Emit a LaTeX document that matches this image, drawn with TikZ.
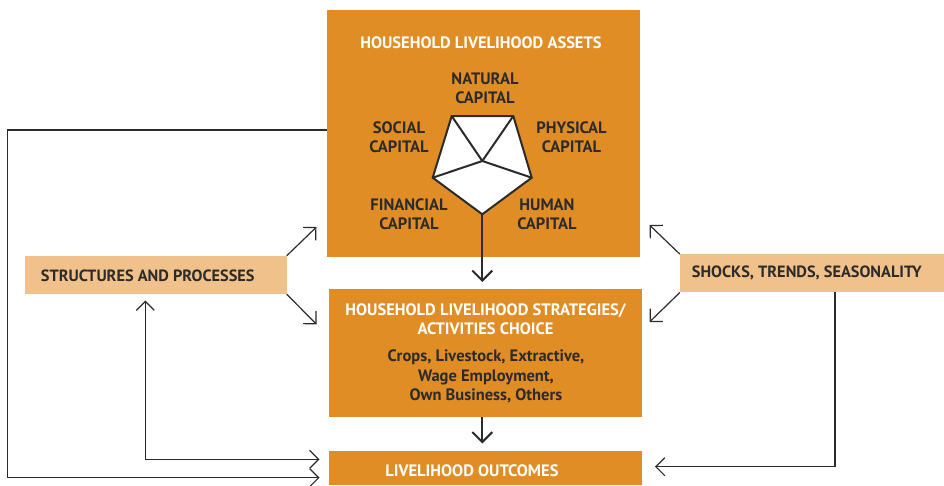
\documentclass[tikz,border=0pt]{standalone}
\usepackage{fontspec}
\setmainfont{PT Sans}
\usetikzlibrary{arrows.meta}
\definecolor{orangebox}{HTML}{E18D26}
\definecolor{lightbox}{HTML}{F0C18A}
\definecolor{ink}{HTML}{2B2B2B}
\tikzset{
  mainbox/.style={fill=orangebox, draw=none, inner sep=0pt},
  sidebox/.style={fill=lightbox, draw=none, inner sep=0pt},
  titletext/.style={text=white, font=\bfseries\fontsize{16.5}{19}\selectfont, align=center, inner sep=0pt},
  captext/.style={text=ink, font=\bfseries\fontsize{16.5}{18.7}\selectfont, align=center, inner sep=0pt},
  bodytext/.style={text=ink, font=\bfseries\fontsize{16.5}{19.2}\selectfont, align=center, inner sep=0pt},
  sidetext/.style={text=ink, font=\bfseries\fontsize{16.3}{18}\selectfont, anchor=west, inner sep=0pt},
  conn/.style={draw=ink, line width=1.2pt, -{Straight Barb[length=9pt,width=18pt,line width=1.2pt]}},
  thickarrow/.style={draw=ink, line width=2pt, -{Straight Barb[length=10pt,width=20pt,line width=2pt]}},
  pent/.style={draw=ink, line width=2pt, line join=miter},
}
\begin{document}
\begin{tikzpicture}[x=1pt, y=-1pt]
\useasboundingbox (0,0) rectangle (944,485);
% main boxes
\node[mainbox, minimum width=313pt, minimum height=247pt] (top) at (483.5,133.5) {};
\node[mainbox, minimum width=313pt, minimum height=128pt] (mid) at (485.5,353) {};
\node[mainbox, minimum width=313pt, minimum height=34pt] (bot) at (485.5,468) {};
% side boxes
\node[sidebox, minimum width=262pt, minimum height=38pt] (left) at (155.5,275) {};
\node[sidebox, minimum width=264pt, minimum height=38pt] (right) at (812,273.3) {};
% texts
\node[titletext] (ttop) at (481,43) {HOUSEHOLD LIVELIHOOD ASSETS};
\node[captext] (nat) at (485,88.5) {NATURAL\\CAPITAL};
\node[captext] (soc) at (399,137.5) {SOCIAL\\CAPITAL};
\node[captext] (phy) at (571.5,137.5) {PHYSICAL\\CAPITAL};
\node[captext] (fin) at (409,214.5) {FINANCIAL\\CAPITAL};
\node[captext] (hum) at (547,214.5) {HUMAN\\CAPITAL};
\node[titletext] (tmid) at (485.5,319.5) {HOUSEHOLD LIVELIHOOD STRATEGIES/\\ACTIVITIES CHOICE};
\node[bodytext] (bmid) at (486,376.5) {Crops, Livestock, Extractive,\\Wage Employment,\\Own Business, Others};
\node[titletext] (tbot) at (472,470.7) {LIVELIHOOD OUTCOMES};
\node[sidetext] (tleft) at (40.7,275.7) {STRUCTURES AND PROCESSES};
\node[sidetext] (tright) at (691.7,273.3) {SHOCKS, TRENDS, SEASONALITY};
% pentagon
\coordinate (p1) at (451.7,116);
\coordinate (p2) at (513.3,116);
\coordinate (p3) at (531.7,177.7);
\coordinate (p4) at (482.3,214.3);
\coordinate (p5) at (432.7,177.7);
\coordinate (pc) at (482.3,161);
\fill[white] (p1) -- (p2) -- (p3) -- (p4) -- (p5) -- cycle;
\draw[pent] (pc) -- (p1) (pc) -- (p2) (pc) -- (p3) (pc) -- (p5);
\draw[pent] (p1) -- (p2) -- (p3) -- (p4) -- (p5) -- cycle;
% vertical arrows
\coordinate (a1) at (482.3,282);
\draw[thickarrow] (p4) -- (a1);
\coordinate (a2top) at (482.3,417);
\coordinate (a2) at (482.3,443.5);
\draw[thickarrow] (a2top) -- (a2);
% diagonal arrows left
\coordinate (dl1) at (316.5,227);
\coordinate (dl2) at (316.5,324.3);
\draw[conn] (left.north east) -- (dl1);
\draw[conn] (left.south east) -- (dl2);
% diagonal arrows right
\coordinate (dr1) at (649.5,225);
\coordinate (dr2) at (649.5,322);
\draw[conn] (right.north west) -- (dr1);
\draw[conn] (right.south west) -- (dr2);
% left outer loop
\coordinate (lo1) at (327,130);
\coordinate (lo2) at (7.7,130);
\coordinate (lo3) at (7.7,477.7);
\coordinate (lo4) at (319.5,477.7);
\draw[conn] (lo1) -- (lo2) -- (lo3) -- (lo4);
% inner loop (double arrow)
\coordinate (li1) at (145.3,300.5);
\coordinate (li2) at (145.3,459.3);
\coordinate (li3) at (319.5,459.3);
\draw[conn, {Straight Barb[length=9pt,width=18pt,line width=1.2pt]}-{Straight Barb[length=9pt,width=18pt,line width=1.2pt]}] (li1) -- (li2) -- (li3);
% right loop
\coordinate (ro1) at (835,292.3);
\coordinate (ro2) at (835,466.7);
\coordinate (ro3) at (655,466.7);
\draw[conn] (ro1) -- (ro2) -- (ro3);
\end{tikzpicture}
\end{document}
